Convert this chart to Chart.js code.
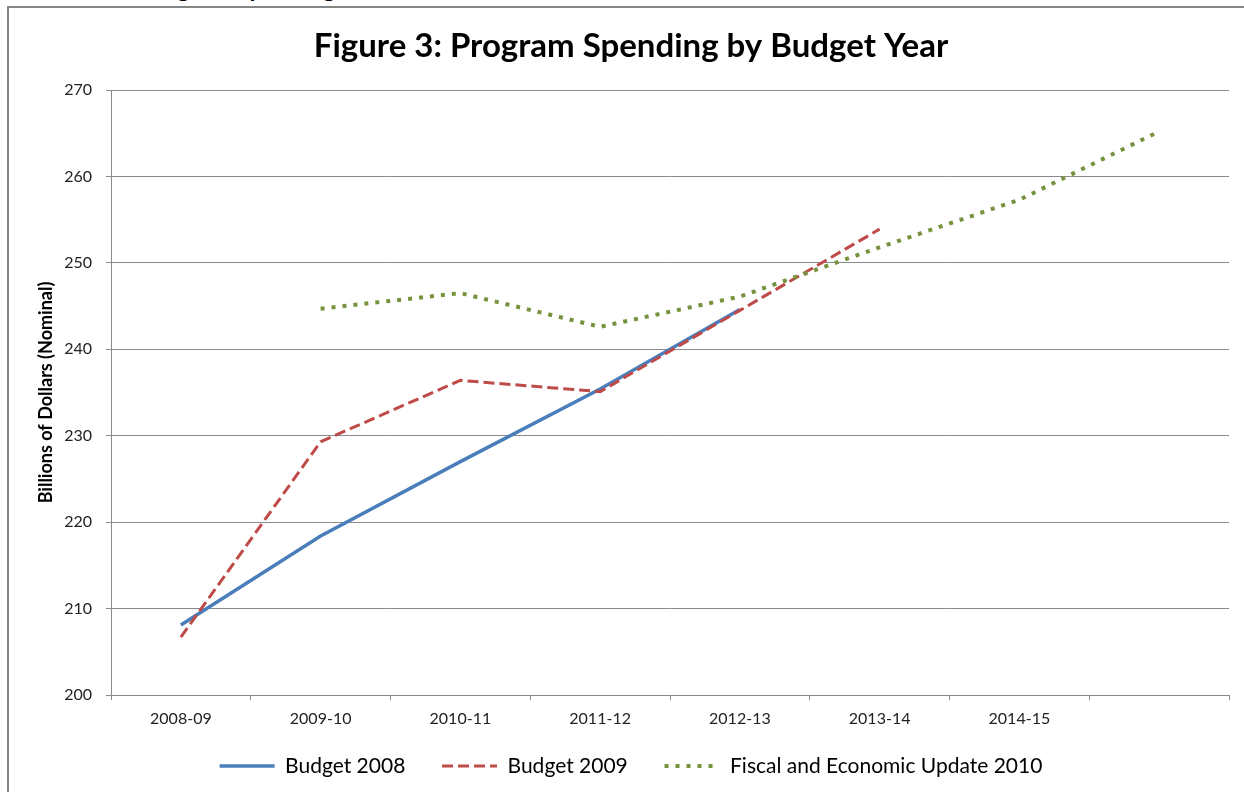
<!DOCTYPE html>
<html>
<head>
<meta charset="utf-8">
<title>Program Spending by Budget Year</title>
<script src="https://cdn.jsdelivr.net/npm/chart.js@4.4.1/dist/chart.umd.min.js"></script>
<style>
  html, body { margin: 0; padding: 0; background: #fff; }
  .page { position: relative; width: 1244px; height: 792px; overflow: hidden; }
  .heading { position: absolute; left: 140px; top: -27px; font: bold 24px Lato, sans-serif; line-height: 30px; color: #000; white-space: nowrap; }
  .frame { position: absolute; left: 7px; top: 6px; width: 1250px; height: 800px; border-top: 2px solid #858585; border-left: 2px solid #858585; }
  .chart-container { position: absolute; left: 0; top: 0; width: 1244px; height: 792px; }
</style>
</head>
<body>
<div class="page">
  <div class="heading">Program Spending</div>
  <div class="frame"></div>
  <div class="chart-container">
    <canvas id="spendingChart"></canvas>
  </div>
</div>
<script>
// fiscal years on the x axis (last slot has no label)
const yearLabels = ['2008-09', '2009-10', '2010-11', '2011-12', '2012-13', '2013-14', '2014-15', ''];

// program spending, billions of dollars (nominal)
const budget2008 = [208.1, 218.4, 227.0, 235.4, 244.6, null, null, null];
const budget2009 = [206.7, 229.3, 236.4, 235.1, 244.5, 253.9, null, null];
const fiscalUpdate2010 = [null, 244.7, 246.5, 242.6, 246.1, 251.8, 257.3, 265.2];

const seriesNames = ['Budget 2008', 'Budget 2009', 'Fiscal and Economic Update 2010'];

const yMin = 200;
const yMax = 270;
const yStep = 10;

Chart.defaults.font.family = 'Lato, "Open Sans", sans-serif';
Chart.defaults.color = '#222';

const gridColor = '#8a8a8a';

const data = {
  labels: yearLabels,
  datasets: [
    {
      label: seriesNames[0],
      data: budget2008,
      borderColor: '#4a7ebb',
      backgroundColor: '#4a7ebb',
      borderWidth: 3.5,
      pointRadius: 0,
      order: 3,
    },
    {
      label: seriesNames[1],
      data: budget2009,
      borderColor: '#be4b48',
      backgroundColor: '#be4b48',
      borderWidth: 3,
      borderDash: [11, 5],
      pointRadius: 0,
      order: 2,
    },
    {
      label: seriesNames[2],
      data: fiscalUpdate2010,
      borderColor: '#76923c',
      backgroundColor: '#76923c',
      borderWidth: 4,
      borderDash: [4, 7],
      pointRadius: 0,
      order: 1,
    },
  ],
};

const options = {
  responsive: true,
  maintainAspectRatio: false,
  animation: false,
  layout: {
    padding: { top: 0, left: 33, right: 15, bottom: 5.5 },
  },
  scales: {
    x: {
      type: 'category',
      offset: true,
      grid: {
        offset: true,
        drawOnChartArea: false,
        drawTicks: true,
        tickLength: 5,
        color: gridColor,
      },
      border: { display: true, color: gridColor },
      ticks: {
        font: { size: 16 },
        color: '#222',
        padding: 9,
        maxRotation: 0,
        autoSkip: false,
      },
      afterFit: (scale) => { scale.height = 39.5; },
    },
    y: {
      min: yMin,
      max: yMax,
      ticks: {
        stepSize: yStep,
        font: { size: 16 },
        color: '#222',
        padding: 14,
      },
      grid: {
        color: gridColor,
        drawTicks: true,
        tickLength: 5,
      },
      border: { display: true, color: gridColor },
      title: {
        display: true,
        text: 'Billions of Dollars (Nominal)',
        font: { size: 18, weight: 'bold' },
        color: '#000',
        padding: { top: 2, bottom: 0 },
      },
      afterFit: (scale) => { scale.width = 78; },
    },
  },
  plugins: {
    title: {
      display: true,
      text: 'Figure 3: Program Spending by Budget Year',
      font: { size: 33, weight: 'bold' },
      color: '#000',
      padding: { top: 27, bottom: 23.4 },
    },
    legend: {
      display: true,
      position: 'bottom',
      labels: {
        usePointStyle: true,
        pointStyle: 'line',
        pointStyleWidth: 55,
        padding: 21,
        color: '#000',
        font: { size: 21 },
        // line samples take the dash and width of their series;
        // an em space after each entry but the last widens the gap between entries
        generateLabels: (chart) => {
          const items = Chart.defaults.plugins.legend.labels.generateLabels(chart);
          items.sort((a, b) => a.datasetIndex - b.datasetIndex);
          items.forEach((item, i) => {
            const ds = chart.data.datasets[item.datasetIndex];
            item.strokeStyle = ds.borderColor;
            item.lineWidth = ds.borderWidth;
            item.lineDash = ds.borderDash || [];
            item.lineCap = 'butt';
            if (i < items.length - 1) item.text += '\u2003';
          });
          return items;
        },
      },
    },
    tooltip: { enabled: false },
  },
};

const chartInstance = new Chart(document.getElementById('spendingChart'), {
  type: 'line',
  data,
  options,
});
</script>
</body>
</html>
